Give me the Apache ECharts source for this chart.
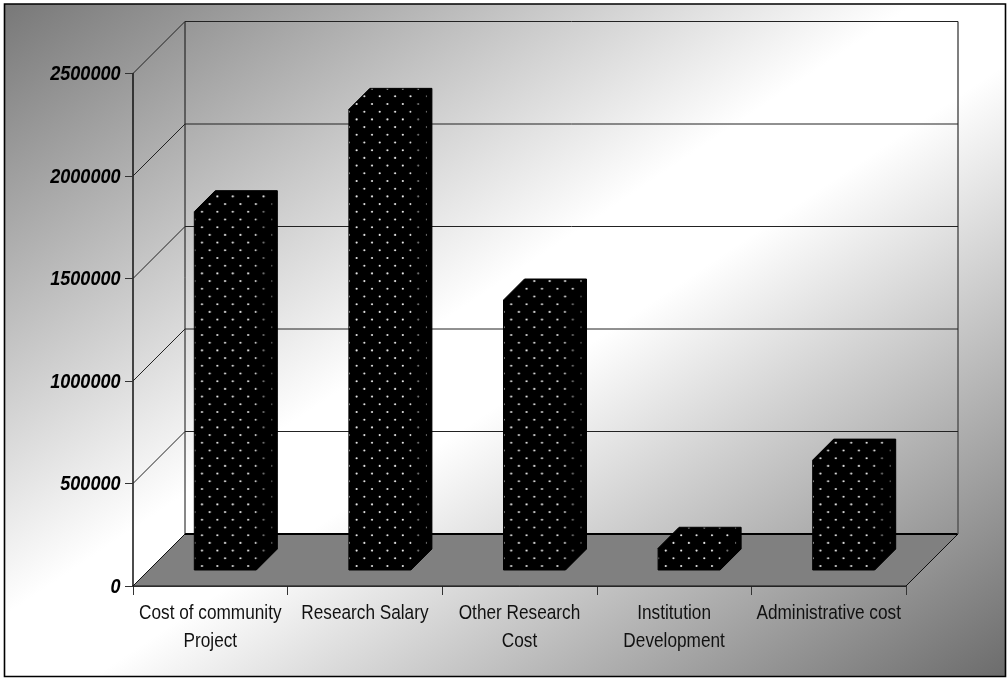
<!DOCTYPE html>
<html><head><meta charset="utf-8"><style>html,body{margin:0;padding:0;background:#fff}#c{width:1008px;height:678px}</style>
<script src="https://cdn.jsdelivr.net/npm/echarts@6/dist/echarts.min.js"></script></head>
<body><div id="c"></div>
<script>
const categories = ['Cost of community\nProject','Research Salary','Other Research\nCost','Institution\nDevelopment','Administrative cost'];
const values = [1748000,2247000,1317000,106000,536000];
const yTicks = [0,500000,1000000,1500000,2000000,2500000];

const DEPTH = 52, GAP_X = 15, GAP_Y = 16, BAR_D = 21, BAR_W = 62;
const FONT = 'Liberation Sans';

const tile = document.createElement('canvas');
tile.width = 77; tile.height = 77;
(function(){
  const c = tile.getContext('2d');
  c.fillStyle = '#000'; c.fillRect(0,0,77,77);
  c.fillStyle = '#eee';
  for (let k=0;k<10;k++) for (let j=0;j<5;j++){
    const x = (7.7 + (k%2?7.7:0) + 15.4*j) % 77, y = (73 - 7.7*k + 77) % 77;
    c.beginPath(); c.arc(x,y,1.05,0,Math.PI*2); c.fill();
  }
})();

const chart = echarts.init(document.getElementById('c'), null, {renderer:'canvas'});
chart.setOption({
  animation:false,
  backgroundColor:'#fff',
  graphic:[{type:'rect',z:-10,shape:{x:4.5,y:4,width:1001,height:672.5},
    style:{stroke:'#000',lineWidth:1.6,fill:{type:'linear',global:true,x:194,y:-123,x2:816,y2:803,
      colorStops:[{offset:0,color:'#787878'},{offset:0.455,color:'#ffffff'},{offset:0.545,color:'#ffffff'},{offset:1,color:'#6c6c6c'}]}}}],
  grid:{left:133,top:73.5,width:773,height:512.5},
  xAxis:{type:'category',data:categories,
    axisLine:{lineStyle:{color:'#111',width:1.5}},
    axisTick:{show:true,length:9,lineStyle:{color:'#333'}},
    axisLabel:{show:false}},
  yAxis:{type:'value',min:0,max:2500000,interval:500000,
    axisLine:{show:true,lineStyle:{color:'#111',width:1.5}},
    axisTick:{show:true,length:8,lineStyle:{color:'#333'}},
    splitLine:{show:false},
    axisLabel:{show:false}},
  series:[
   {type:'custom',coordinateSystem:'cartesian2d',z:1,silent:true,clip:false,
    data:yTicks.map(v=>[0,v]),
    renderItem:function(p,api){
      const v = api.value(1);
      const L = api.coord([0,v]), bw = api.size([1,0])[0];
      const x0 = L[0]-bw/2, xr = L[0]+bw*4.5, y = L[1];
      const kids = [];
      if (v===0){
        kids.push({type:'polygon',shape:{points:[[x0,y],[xr,y],[xr+DEPTH,y-DEPTH],[x0+DEPTH,y-DEPTH]]},
          style:{fill:'#808080',stroke:'#111',lineWidth:1}});
        kids.push({type:'line',shape:{x1:x0+DEPTH,y1:y-DEPTH,x2:xr+DEPTH,y2:y-DEPTH},style:{stroke:'#000',lineWidth:2}});
        kids.push({type:'line',shape:{x1:x0+DEPTH,y1:y-DEPTH,x2:x0+DEPTH,y2:y-DEPTH-512.5},style:{stroke:'#111',lineWidth:1}});
        kids.push({type:'line',shape:{x1:xr+DEPTH,y1:y-DEPTH,x2:xr+DEPTH,y2:y-DEPTH-512.5},style:{stroke:'#555',lineWidth:1.5}});
      } else {
        kids.push({type:'polyline',shape:{points:[[x0,y],[x0+DEPTH,y-DEPTH],[xr+DEPTH,y-DEPTH]]},
          style:{fill:'none',stroke:'#222',lineWidth:1}});
      }
      kids.push({type:'text',x:x0-12.5,y:y+1,scaleX:0.88,
        style:{text:String(v),fill:'#000',fontFamily:FONT,fontStyle:'italic',fontWeight:'bold',fontSize:20.5,align:'right',verticalAlign:'middle'}});
      return {type:'group',children:kids};
    }},
   {type:'custom',coordinateSystem:'cartesian2d',z:3,silent:true,clip:false,
    data:values.map((v,i)=>[i,v]),
    renderItem:function(p,api){
      const i = api.value(0);
      const top = api.coord([i,api.value(1)]), base = api.coord([i,0]);
      const xl = top[0]+GAP_X-BAR_W/2, yb = base[1]-GAP_Y;
      const h = base[1]-top[1], w = BAR_W, d = BAR_D;
      return {type:'group',children:[
        {type:'polygon',x:xl,y:yb,
         shape:{points:[[0,0],[0,-h],[d,-h-d],[w+d,-h-d],[w+d,-d],[w,0]]},
         style:{fill:{image:tile,repeat:'repeat'},stroke:'#000',lineWidth:1}},
        {type:'polygon',x:xl,y:yb,
         shape:{points:[[w,0],[w,-h],[w+d,-h-d],[w+d,-d]]},
         style:{fill:'rgba(0,0,0,0.5)'}}
      ]};
    }},
   {type:'custom',coordinateSystem:'cartesian2d',z:4,silent:true,clip:false,
    data:categories.map((c,i)=>[i,0]),
    renderItem:function(p,api){
      const i = api.value(0), b = api.coord([i,0]);
      return {type:'group',children:categories[i].split('\n').map((t,k)=>({
        type:'text',x:b[0],y:b[1]+27+k*28.5,scaleX:0.84,
        style:{text:t,fill:'#111',fontFamily:FONT,fontSize:20.5,align:'center',verticalAlign:'middle'}}))};
    }}
  ]
});
</script></body></html>
